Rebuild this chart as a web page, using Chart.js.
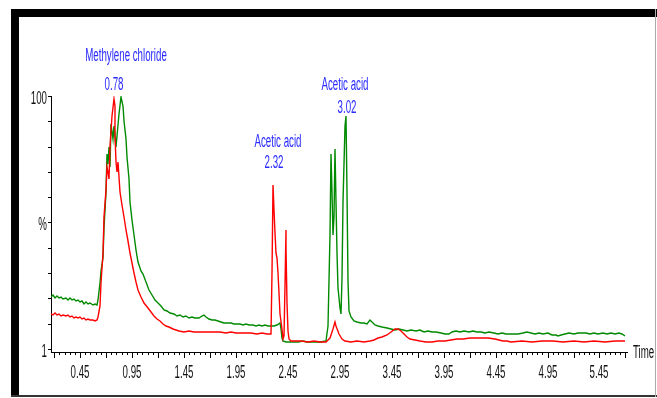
<!DOCTYPE html>
<html>
<head>
<meta charset="utf-8">
<script src="https://cdn.jsdelivr.net/npm/chart.js@4.4.1/dist/chart.umd.min.js"></script>
<style>
  html, body { margin: 0; padding: 0; background: #fff; }
  canvas { display: block; }
</style>
</head>
<body>
<canvas id="chrom-chart" width="657" height="398"></canvas>
<script>
// retention time (min) and intensity (%)
const greenTime = [0.17, 0.19, 0.21, 0.23, 0.25, 0.27, 0.29, 0.31, 0.33, 0.35, 0.37, 0.39, 0.41, 0.43, 0.45, 0.47, 0.49, 0.51, 0.53, 0.55, 0.57, 0.59, 0.61,
  0.625, 0.64, 0.655, 0.67, 0.685, 0.695, 0.705, 0.715, 0.725, 0.735, 0.75, 0.765, 0.78, 0.795, 0.81, 0.825, 0.845, 0.86, 0.875, 0.89, 0.905, 0.92, 0.935, 0.95, 0.965, 0.985,
  1.01, 1.035, 1.055, 1.08, 1.11, 1.14, 1.17, 1.20, 1.23, 1.26, 1.29, 1.32, 1.35, 1.38, 1.41, 1.44, 1.47, 1.50, 1.53, 1.56, 1.59, 1.62, 1.64, 1.66, 1.69, 1.72, 1.75, 1.78,
  1.81, 1.84, 1.87, 1.90, 1.93, 1.96, 1.99, 2.02, 2.05, 2.08, 2.11, 2.14, 2.17, 2.20, 2.23, 2.26, 2.29, 2.32, 2.35, 2.37, 2.38, 2.39, 2.40, 2.43, 2.46, 2.50, 2.55, 2.60,
  2.63, 2.70, 2.76, 2.82, 2.84, 2.853, 2.862, 2.872, 2.882, 2.89, 2.902, 2.912, 2.922, 2.935, 2.95, 2.962, 2.972, 2.985, 2.998, 3.008, 3.016, 3.026, 3.04, 3.06, 3.09,
  3.12, 3.15, 3.18, 3.21, 3.24, 3.26, 3.29, 3.32, 3.36, 3.40, 3.44, 3.48, 3.52, 3.56, 3.60, 3.64, 3.68, 3.72, 3.76, 3.80, 3.84, 3.88, 3.92, 3.96, 4.00, 4.03, 4.07,
  4.11, 4.15, 4.19, 4.23, 4.27, 4.31, 4.35, 4.39, 4.43, 4.47, 4.51, 4.55, 4.59, 4.63, 4.67, 4.71, 4.75, 4.79, 4.83, 4.87, 4.91, 4.95, 4.99, 5.03, 5.05, 5.08, 5.12,
  5.16, 5.20, 5.24, 5.28, 5.32, 5.36, 5.40, 5.44, 5.48, 5.52, 5.56, 5.60, 5.64, 5.67, 5.70];
const greenValue = [20.6, 21.2, 20.3, 20.9, 20.1, 20.6, 19.7, 20.2, 19.5, 20.0, 19.2, 19.6, 18.8, 19.3, 18.5, 18.9, 17.9, 18.4, 17.6, 18.1, 17.2, 17.7, 17.5,
  19.5, 26, 31, 36, 48, 62, 77, 73, 80, 72, 89, 83, 88, 80, 84, 93, 99.5, 96, 90, 83, 76, 67, 58, 51, 45, 39,
  34.5, 31, 29.5, 26.5, 23.5, 21.5, 19.5, 18, 16.8, 15.6, 15.2, 14.2, 13.8, 13.1, 13.5, 12.8, 13.0, 12.4, 12.7, 12.1, 12.3, 12.9, 13.6, 12.5, 12.0, 11.4, 11.6, 10.9,
  10.6, 10.3, 10.1, 10.4, 9.9, 9.7, 10.0, 9.5, 9.8, 9.4, 9.6, 9.2, 9.5, 9.1, 9.4, 9.0, 9.2, 9.1, 9.4, 10.3, 8, 4.5, 3.0, 2.8, 2.9, 2.7, 2.9, 3.2,
  2.8, 2.7, 2.8, 3.0, 9, 45, 77, 62, 45, 52, 79, 58, 38, 24, 16, 14, 28, 58, 88, 92, 62, 27, 15, 12.5, 11.2,
  10.6, 10.2, 10.4, 10.0, 11.6, 10.5, 9.6, 9.2, 8.8, 8.3, 8.0, 7.5, 7.7, 7.4, 7.2, 7.5, 7.0, 7.3, 6.9, 7.1, 6.8, 6.9, 6.2, 5.9, 6.0, 6.8, 7.0,
  6.7, 7.1, 6.8, 7.0, 6.6, 6.9, 6.5, 6.8, 6.3, 6.0, 6.2, 5.9, 6.1, 5.8, 6.0, 6.3, 6.9, 6.4, 6.1, 6.3, 5.9, 6.2, 5.7, 5.5, 5.0, 5.4, 6.0,
  6.3, 6.0, 6.5, 6.2, 6.4, 6.0, 6.3, 5.9, 6.2, 6.0, 6.4, 6.0, 6.3, 6.0, 5.0];

const redTime = [0.17, 0.19, 0.21, 0.23, 0.25, 0.27, 0.29, 0.31, 0.33, 0.35, 0.37, 0.39, 0.41, 0.43, 0.45, 0.47, 0.49, 0.51, 0.53, 0.55, 0.57, 0.59, 0.61,
  0.625, 0.64, 0.655, 0.67, 0.685, 0.70, 0.71, 0.72, 0.73, 0.74, 0.75, 0.76, 0.772, 0.782, 0.79, 0.797, 0.805, 0.812, 0.82, 0.835, 0.85, 0.87, 0.89, 0.91, 0.93, 0.95,
  0.97, 0.99, 1.01, 1.04, 1.07, 1.10, 1.13, 1.16, 1.19, 1.22, 1.25, 1.28, 1.31, 1.34, 1.37, 1.40, 1.45, 1.50, 1.55, 1.60, 1.65, 1.70, 1.75, 1.80, 1.85, 1.90, 1.95,
  2.00, 2.05, 2.10, 2.15, 2.20, 2.25, 2.285, 2.295, 2.303, 2.312, 2.322, 2.332, 2.342, 2.352, 2.365, 2.378, 2.39, 2.40, 2.415, 2.425, 2.43, 2.437, 2.445, 2.455, 2.465,
  2.48, 2.52, 2.58, 2.64, 2.70, 2.76, 2.82, 2.86, 2.88, 2.90, 2.915, 2.94, 2.97, 3.00, 3.06, 3.12, 3.18, 3.24, 3.28, 3.32, 3.36, 3.40, 3.44, 3.48, 3.51, 3.54, 3.57,
  3.60, 3.63, 3.67, 3.72, 3.78, 3.84, 3.90, 3.96, 4.02, 4.08, 4.14, 4.20, 4.26, 4.32, 4.38, 4.44, 4.48, 4.52, 4.56, 4.60, 4.70, 4.80, 4.90, 5.00, 5.10, 5.20, 5.30,
  5.40, 5.50, 5.60, 5.70];
const redValue = [14.0, 13.6, 14.1, 13.4, 13.7, 13.2, 13.5, 12.9, 13.3, 12.7, 13.0, 12.4, 12.8, 12.2, 12.5, 11.9, 12.2, 11.6, 11.9, 11.3, 11.6, 11.1, 11.4,
  12.5, 17, 26, 38, 52, 63, 72, 70, 67, 80, 86, 92, 99, 96, 84, 74, 70, 74, 68, 62, 57, 52, 47, 42.5, 38, 34,
  30, 26.5, 23.5, 20.5, 18, 16.3, 14.7, 13.2, 12, 11, 10.0, 9.2, 8.5, 7.9, 7.4, 7.0, 6.9, 7.0, 6.8, 6.9, 6.7, 6.8, 6.6, 6.7, 6.5, 6.6, 6.3,
  6.5, 6.2, 6.3, 6.1, 6.2, 6.0, 6.1, 30, 65, 55, 46, 38, 36, 30, 22, 14, 8, 4, 5, 25, 47, 40, 18, 7, 4,
  3.2, 3.0, 3.1, 2.9, 3.0, 2.8, 2.9, 4.5, 8, 10.8, 9, 6, 3.8, 3.0, 2.8, 3.0, 2.9, 3.1, 3.4, 4.2, 4.6, 5.4, 6.6, 7.8, 7.9, 7.0, 5.8,
  4.8, 4.0, 3.4, 3.0, 2.9, 2.8, 3.0, 3.2, 3.6, 4.0, 4.1, 4.3, 4.2, 4.4, 4.2, 4.1, 3.6, 3.2, 3.0, 2.9, 3.0, 2.9, 3.0, 3.1, 2.9, 3.0, 2.9,
  3.0, 2.9, 3.0, 3.0];

const peakNames = ["Methylene chloride", "Acetic acid", "Acetic acid"];
const peakTimes = [0.78, 2.32, 3.02];
const peakHeights = [99, 65, 92];

const xTickLabels = ["0.45", "0.95", "1.45", "1.95", "2.45", "2.95", "3.45", "3.95", "4.45", "4.95", "5.45"];
const yTickValues = [0, 10, 20, 30, 40, 50, 60, 70, 80, 90, 100];
const yTickLabels = ["1", "", "", "", "", "%", "", "", "", "", "100"];

// minor ticks every 0.05, long ones every 0.25
const xMinorTicks = [];
for (let i = 4; i <= 114; i++) xMinorTicks.push(+(i * 0.05).toFixed(2));
const xMajorTicks = xMinorTicks.filter((v, i) => i % 5 === 0);

const textFont = "18px 'Liberation Sans', Arial, sans-serif";
const squeeze = 0.54;

function narrowText(ctx, text, x, y, align) {
    ctx.save();
    ctx.translate(x, y);
    ctx.scale(squeeze, 1);
    ctx.textAlign = align;
    ctx.textBaseline = "alphabetic";
    ctx.fillText(text, 0, 0);
    ctx.restore();
}

const framePlugin = {
    id: "frame",
    beforeDraw(chart) {
        const c = chart.ctx;
        c.save();
        c.fillStyle = "#fff";
        c.fillRect(0, 0, chart.width, chart.height);
        c.fillStyle = "#000";
        c.fillRect(11, 9, 646, 8);
        c.fillRect(11, 9, 8, 388);
        c.fillStyle = "#333";
        c.fillRect(11, 395, 646, 2);
        c.fillStyle = "#aaa";
        c.fillRect(655, 9, 1, 388);
        c.restore();
    }
};

const labelPlugin = {
    id: "labels",
    afterDraw(chart) {
        const c = chart.ctx;
        const xs = chart.scales.x;
        const ys = chart.scales.y;
        c.save();
        c.font = textFont;

        // long ticks
        c.strokeStyle = "#000";
        c.lineWidth = 1;
        c.beginPath();
        xMajorTicks.forEach(v => {
            const px = Math.round(xs.getPixelForValue(v)) + 0.5;
            c.moveTo(px, ys.bottom);
            c.lineTo(px, ys.bottom + 6);
        });
        c.stroke();

        c.fillStyle = "#111";
        xTickLabels.forEach(t => {
            narrowText(c, t, xs.getPixelForValue(parseFloat(t)), 378, "center");
        });
        yTickValues.forEach((v, i) => {
            if (yTickLabels[i]) narrowText(c, yTickLabels[i], 47, ys.getPixelForValue(v) + 8, "right");
        });
        narrowText(c, "Time", 633, 358, "left");

        // peak annotations
        const nameShift = [12, 4, -2];
        const timeLift = [9, 17, 3];
        const nameGap = [29, 21, 23];
        c.fillStyle = "#2a2aff";
        peakTimes.forEach((t, i) => {
            const px = xs.getPixelForValue(t);
            const py = ys.getPixelForValue(peakHeights[i]) - timeLift[i];
            narrowText(c, t.toFixed(2), px, py, "center");
            narrowText(c, peakNames[i], px + nameShift[i], py - nameGap[i], "center");
        });
        c.restore();
    }
};

const ctx = document.getElementById("chrom-chart").getContext("2d");

const config = {
    type: "line",
    data: {
        datasets: [{
            label: "green",
            data: greenTime.map((t, i) => ({x: t, y: greenValue[i]})),
            borderColor: "#008a00",
            borderWidth: 1.4,
            pointRadius: 0,
            tension: 0,
            order: 2
        }, {
            label: "red",
            data: redTime.map((t, i) => ({x: t, y: redValue[i]})),
            borderColor: "#ff0000",
            borderWidth: 1.4,
            pointRadius: 0,
            tension: 0,
            order: 1
        }]
    },
    options: {
        responsive: false,
        animation: false,
        layout: {
            padding: {left: 48, right: 30, top: 96, bottom: 43}
        },
        plugins: {
            legend: {display: false},
            tooltip: {enabled: false}
        },
        scales: {
            x: {
                type: "linear",
                min: 0.17,
                max: 5.715,
                alignToPixels: true,
                afterBuildTicks: axis => {
                    axis.ticks = xMinorTicks.map(v => ({value: v}));
                },
                grid: {drawOnChartArea: false, drawTicks: true, tickLength: 3, tickColor: "#000"},
                border: {display: true, color: "#000", width: 1},
                ticks: {display: false}
            },
            y: {
                type: "linear",
                min: -1.2,
                max: 100,
                alignToPixels: true,
                afterBuildTicks: axis => {
                    axis.ticks = yTickValues.map(v => ({value: v}));
                },
                grid: {drawOnChartArea: false, drawTicks: true, tickLength: 3, tickColor: "#000"},
                border: {display: true, color: "#000", width: 1},
                ticks: {display: false}
            }
        }
    },
    plugins: [framePlugin, labelPlugin]
};

const chrom_chart = new Chart(ctx, config);
</script>
</body>
</html>
